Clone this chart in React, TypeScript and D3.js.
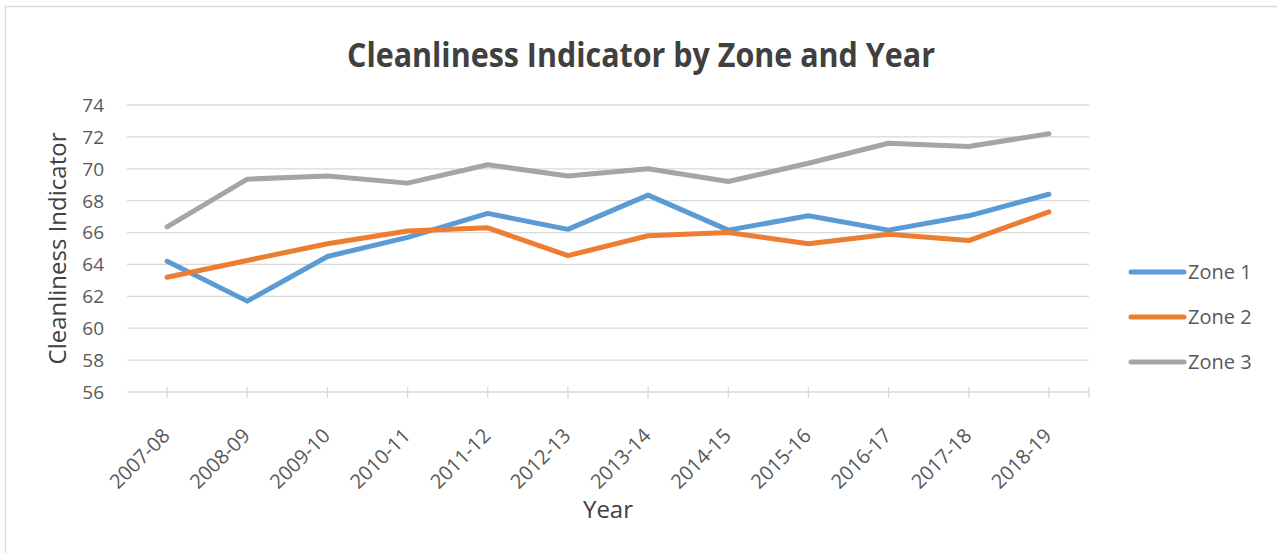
import React, {useRef, useEffect} from 'react'
import * as d3 from 'd3';

const years = ["2007-08", "2008-09", "2009-10", "2010-11", "2011-12", "2012-13",
  "2013-14", "2014-15", "2015-16", "2016-17", "2017-18", "2018-19"];

const zone1 = [64.2, 61.7, 64.5, 65.7, 67.2, 66.2, 68.35, 66.15, 67.05, 66.15, 67.05, 68.4];
const zone2 = [63.2, 64.25, 65.3, 66.1, 66.3, 64.55, 65.8, 66.0, 65.3, 65.9, 65.5, 67.3];
const zone3 = [66.35, 69.35, 69.55, 69.1, 70.25, 69.55, 70.0, 69.2, 70.35, 71.6, 71.4, 72.2];

const yTicks = [56, 58, 60, 62, 64, 66, 68, 70, 72, 74];

const seriesNames = ["Zone 1", "Zone 2", "Zone 3"];
const seriesColors = ["#5B9BD5", "#ED7D31", "#A5A5A5"];

const layout = {width: 1277, height: 553, left: 127, right: 1089, top: 105, bottom: 392};
const font = "'Open Sans', sans-serif";

const LineChart = () => {
  const ref = useRef<SVGSVGElement>(null);

  useEffect(() => {
    const svg = d3.select(ref.current);
    svg.selectAll("*").remove();

    const xScale = d3.scalePoint()
      .domain(years)
      .range([layout.left, layout.right])
      .padding(0.5);

    const yScale = d3.scaleLinear()
      .domain([56, 74])
      .range([layout.bottom, layout.top]);

    // chart border
    svg.append("rect")
      .attr("x", 5.5).attr("y", 6.5)
      .attr("width", 1300).attr("height", 600)
      .attr("fill", "white")
      .attr("stroke", "#D9D9D9")
      .attr("stroke-width", 1.5);

    svg.append("text")
      .attr("x", 641).attr("y", 67)
      .attr("text-anchor", "middle")
      .attr("font-family", font)
      .attr("font-weight", "bold")
      .attr("font-size", 34)
      .attr("textLength", 588)
      .attr("lengthAdjust", "spacingAndGlyphs")
      .attr("fill", "#404040")
      .text("Cleanliness Indicator by Zone and Year");

    // gridlines
    svg.append("g")
      .selectAll("line")
      .data(yTicks)
      .join("line")
      .attr("x1", layout.left).attr("x2", layout.right)
      .attr("y1", d => yScale(d)).attr("y2", d => yScale(d))
      .attr("stroke", "#D9D9D9")
      .attr("stroke-width", 1.3);

    svg.append("g")
      .selectAll("text")
      .data(yTicks)
      .join("text")
      .attr("x", 104)
      .attr("y", d => yScale(d))
      .attr("dy", "0.36em")
      .attr("text-anchor", "end")
      .attr("font-family", font)
      .attr("font-size", 19)
      .attr("fill", "#595959")
      .text(d => d);

    // x axis ticks
    const tickX = years.map(d => xScale(d) as number).concat([layout.right]);
    svg.append("g")
      .selectAll("line")
      .data(tickX)
      .join("line")
      .attr("x1", d => d).attr("x2", d => d)
      .attr("y1", layout.bottom - 5).attr("y2", layout.bottom + 6)
      .attr("stroke", "#D9D9D9")
      .attr("stroke-width", 1.3);

    svg.append("g")
      .selectAll("text")
      .data(years)
      .join("text")
      .attr("transform", d => `translate(${(xScale(d) as number) + 4}, ${layout.bottom + 45}) rotate(-45)`)
      .attr("text-anchor", "end")
      .attr("font-family", font)
      .attr("font-size", 20)
      .attr("fill", "#595959")
      .text(d => d);

    // axis titles
    svg.append("text")
      .attr("x", (layout.left + layout.right) / 2).attr("y", 518)
      .attr("text-anchor", "middle")
      .attr("font-family", font)
      .attr("font-size", 24)
      .attr("fill", "#404040")
      .text("Year");

    svg.append("text")
      .attr("transform", `translate(66, ${(layout.top + layout.bottom) / 2}) rotate(-90)`)
      .attr("text-anchor", "middle")
      .attr("font-family", font)
      .attr("font-size", 24)
      .attr("fill", "#404040")
      .text("Cleanliness Indicator");

    // lines
    const line = d3.line<number>()
      .x((d, i) => xScale(years[i]) as number)
      .y(d => yScale(d));

    svg.append("g")
      .selectAll("path")
      .data([zone1, zone2, zone3])
      .join("path")
      .attr("d", d => line(d))
      .attr("fill", "none")
      .attr("stroke", (d, i) => seriesColors[i])
      .attr("stroke-width", 5)
      .attr("stroke-linecap", "round")
      .attr("stroke-linejoin", "round");

    // legend
    const legend = svg.append("g")
      .selectAll("g")
      .data(seriesNames)
      .join("g")
      .attr("transform", (d, i) => `translate(1131, ${272 + i * 45})`);

    legend.append("line")
      .attr("x1", 0).attr("x2", 53)
      .attr("stroke", (d, i) => seriesColors[i])
      .attr("stroke-width", 5)
      .attr("stroke-linecap", "round");

    legend.append("text")
      .attr("x", 57)
      .attr("dy", "0.36em")
      .attr("font-family", font)
      .attr("font-size", 20)
      .attr("fill", "#595959")
      .text(d => d);

  }, [])

  return (
    <svg ref={ref} width={layout.width} height={layout.height}
         style={{position: "absolute", left: 0, top: 0}} />
  )
}

export default function App() {
  return <LineChart />
}
